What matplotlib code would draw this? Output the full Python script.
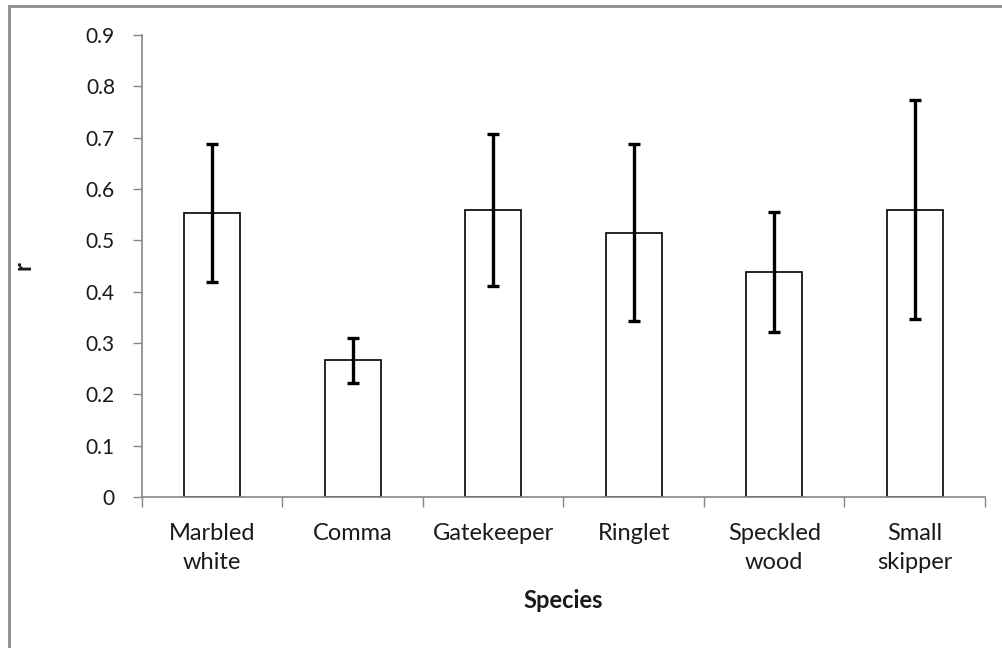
import matplotlib
matplotlib.use("Agg")
import matplotlib.pyplot as plt
from matplotlib.patches import Rectangle
import numpy as np

species = ["Marbled\nwhite", "Comma", "Gatekeeper", "Ringlet", "Speckled\nwood", "Small\nskipper"]
r_mean = [0.553, 0.266, 0.560, 0.515, 0.438, 0.560]
r_err = [0.135, 0.044, 0.148, 0.172, 0.117, 0.214]
y_ticks = [0, 0.1, 0.2, 0.3, 0.4, 0.5, 0.6, 0.7, 0.8, 0.9]
y_tick_labels = ["0", "0.1", "0.2", "0.3", "0.4", "0.5", "0.6", "0.7", "0.8", "0.9"]

plt.rcParams['font.family'] = ['Lato', 'DejaVu Sans']
axis_grey = '#868686'
text_col = '#1a1a1a'

fig = plt.figure(figsize=(10.03, 6.48), dpi=100)
ax = fig.add_axes([142 / 1003, 151 / 648, 843 / 1003, 462 / 648])

x = np.arange(len(species))
ax.bar(x, r_mean, width=0.4, color='white', edgecolor='black', linewidth=1.2, zorder=2)
ax.errorbar(x, r_mean, yerr=r_err, fmt='none', ecolor='black', elinewidth=2.4,
            capsize=4, capthick=2.4, zorder=3)

ax.set_xlim(-0.5, len(species) - 0.5)
ax.set_ylim(0, 0.9)

# y axis
ax.set_yticks(y_ticks)
ax.set_yticklabels(y_tick_labels)
ax.tick_params(axis='y', direction='out', length=6.5, width=1, color=axis_grey,
               pad=13, labelsize=15, labelcolor=text_col)

# x axis: ticks at category boundaries, labels at centres
ax.set_xticks(np.arange(-0.5, len(species), 1.0))
ax.set_xticklabels([])
ax.set_xticks(x, minor=True)
ax.set_xticklabels(species, minor=True, linespacing=1.42)
ax.tick_params(axis='x', which='major', direction='out', length=7, width=1, color=axis_grey)
ax.tick_params(axis='x', which='minor', length=0, pad=19, labelsize=17, labelcolor=text_col)

for s in ['top', 'right']:
    ax.spines[s].set_visible(False)
for s in ['left', 'bottom']:
    ax.spines[s].set_color(axis_grey)
    ax.spines[s].set_linewidth(1.2)

ax.set_ylabel('r', fontsize=17, fontweight='bold', color=text_col)
ax.yaxis.set_label_coords(-0.127, 0.5)
ax.set_xlabel('Species', fontsize=17, fontweight='bold', color=text_col)
ax.xaxis.set_label_coords(0.5, -0.2)

# chart border (only the top and left edges show in the reference)
fig.patches.append(Rectangle((9 / 1003, -0.1), 1.2, (648 - 6) / 648 + 0.1,
                             transform=fig.transFigure, fill=False,
                             edgecolor='#8c8c8c', linewidth=2))

fig.savefig("out.png", dpi=100)
